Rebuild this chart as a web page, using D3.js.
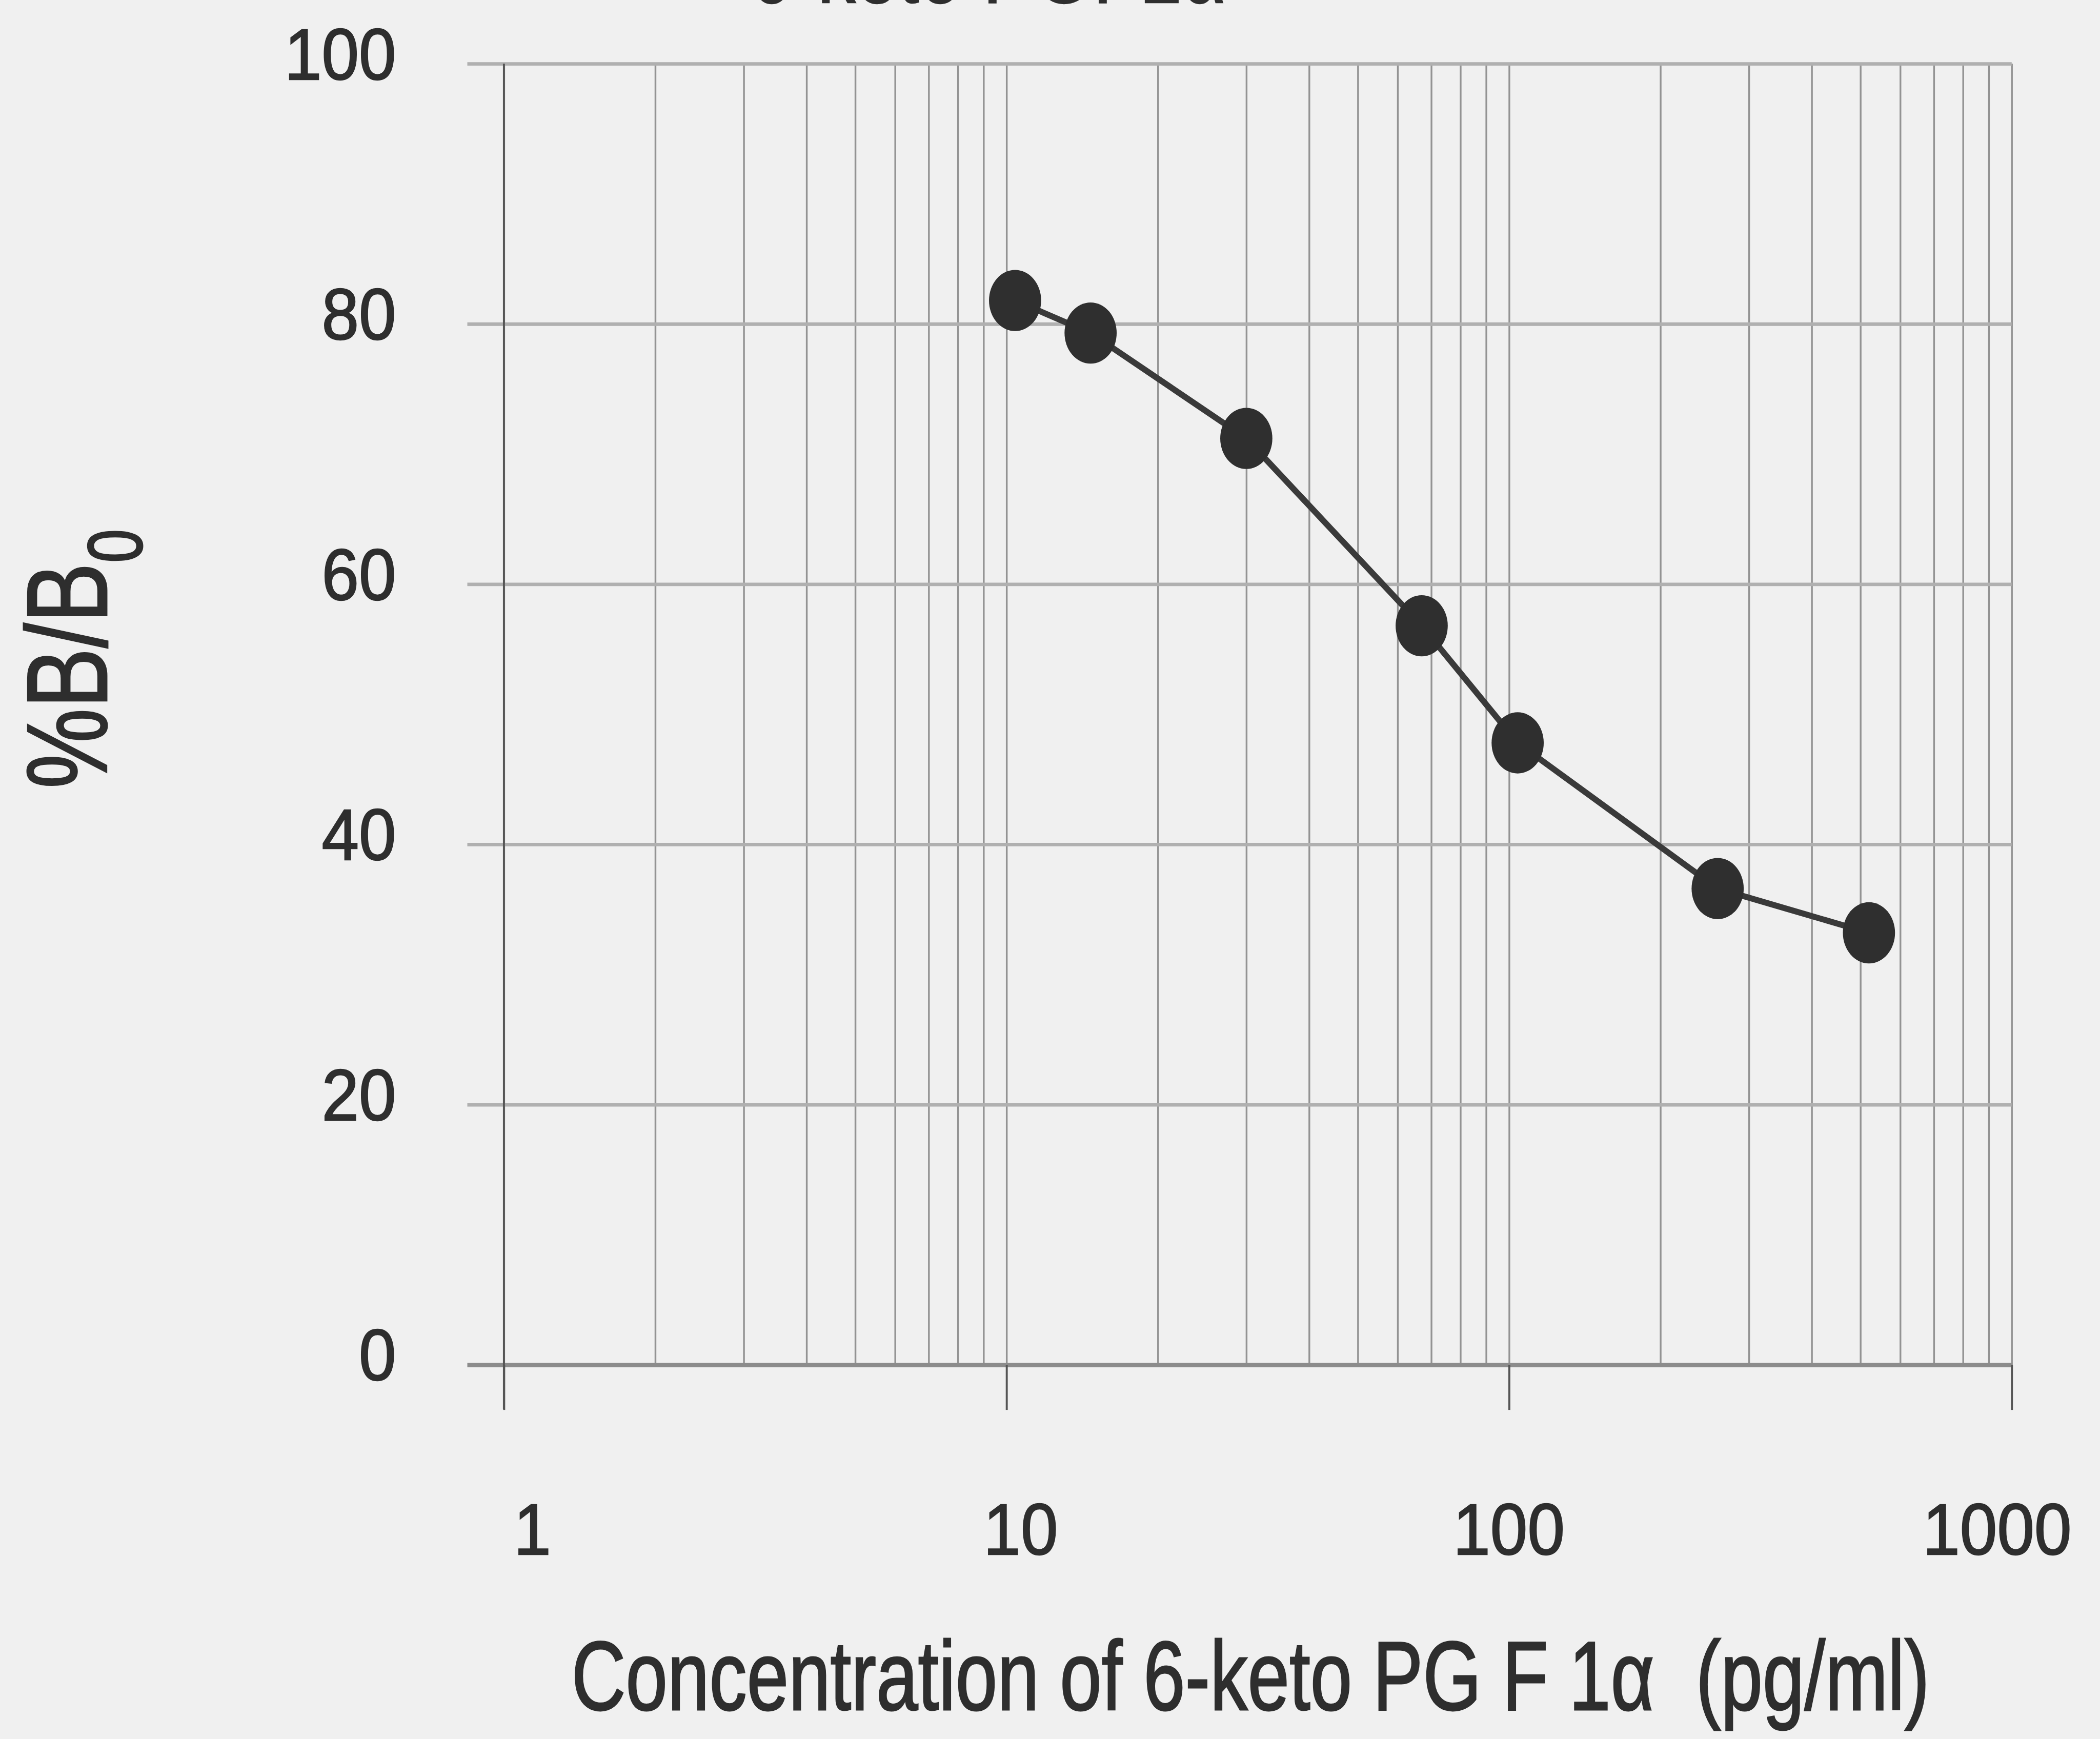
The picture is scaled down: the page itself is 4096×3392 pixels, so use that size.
<!DOCTYPE html>
<html>
<head>
<meta charset="utf-8">
<script src="https://cdn.jsdelivr.net/npm/d3@7"></script>
<style>
  html, body { margin: 0; padding: 0; background: #f0f0f0; overflow: hidden; }
  svg { display: block; }
  text { font-family: "Liberation Sans", Arial, sans-serif; fill: #2e2e2e; stroke: #2e2e2e; stroke-width: 2.5px; white-space: pre; }
</style>
</head>
<body>
<script>
// ---- data ----
const xMajorTicks = [1, 10, 100, 1000];
const xTickLabels = ["1", "10", "100", "1000"];
const yTicks = [0, 20, 40, 60, 80, 100];
const yTickLabels = ["0", "20", "40", "60", "80", "100"];
const concentration = [10.4, 14.7, 30, 67, 104, 260, 520];   // pg/ml
const percentB = [81.8, 79.3, 71.2, 56.8, 47.8, 36.6, 33.2];  // %B/B0
const titleText = "6-keto PGF1α";
const xTitle = "Concentration of 6-keto PG F 1α  (pg/ml)";

// ---- drawing (reference pixel space, scaled to window) ----
const W = 4096, H = 3392, S = 0.978;
const svg = d3.select("body").append("svg").attr("width", W).attr("height", H);
svg.append("rect").attr("width", W).attr("height", H).attr("fill", "#f0f0f0");
const g = svg.append("g").attr("transform", `scale(${S})`);

const x = d3.scaleLog().domain([1, 1000]).range([1005, 4012]);
const y = d3.scaleLinear().domain([0, 100]).range([2722, 127]);
// tick labels sit slightly skewed relative to the ticks in the scan
const xLabelPos = d3.scaleLog().domain([1, 1000]).range([1062, 3983]);

// vertical grid (all log ticks)
const gx = g.append("g").attr("transform", `translate(0,${y(0)})`)
  .call(d3.axisBottom(x).tickValues(x.ticks()).tickSize(-(y(0) - y(100))).tickFormat(""));
gx.select(".domain").remove();
gx.selectAll(".tick line").attr("stroke", "#939393").attr("stroke-width", 3.5);

// horizontal grid
const gy = g.append("g").attr("transform", `translate(${x(1000)},0)`)
  .call(d3.axisLeft(y).tickValues(yTicks).tickSize(x(1000) - 932).tickFormat(""));
gy.select(".domain").remove();
gy.selectAll(".tick line")
  .attr("stroke", d => d === 0 ? "#8c8c8c" : "#b0b0b0")
  .attr("stroke-width", d => d === 0 ? 9 : 7);

// major x ticks extending below the axis
const gt = g.append("g").attr("transform", `translate(0,${y(0)})`)
  .call(d3.axisBottom(x).tickValues(xMajorTicks).tickSize(90).tickFormat(""));
gt.select(".domain").remove();
gt.selectAll(".tick line").attr("stroke", "#555").attr("stroke-width", 4);

// left axis line at x = 1
g.append("line")
  .attr("x1", x(1)).attr("x2", x(1))
  .attr("y1", y(100)).attr("y2", y(0) + 88)
  .attr("stroke", "#555").attr("stroke-width", 4);

// x tick labels
g.append("g").selectAll("text").data(xMajorTicks).join("text")
  .attr("transform", d => `translate(${xLabelPos(d)},3100) scale(0.92,1)`)
  .attr("text-anchor", "middle")
  .attr("font-size", 145)
  .text((d, i) => xTickLabels[i]);

// y tick labels
g.append("g").selectAll("text").data(yTicks).join("text")
  .attr("transform", d => `translate(790,${y(d) + 31}) scale(0.92,1)`)
  .attr("text-anchor", "end")
  .attr("font-size", 145)
  .text((d, i) => yTickLabels[i]);

// y axis title %B/B0
const yt = g.append("text")
  .attr("transform", "translate(213,1314) rotate(-90) scale(0.79,1)")
  .attr("text-anchor", "middle")
  .attr("font-size", 228)
  .style("stroke-width", "3px");
yt.append("tspan").text("%B/B");
yt.append("tspan").attr("font-size", 153).attr("dy", 70).text("0");

// x axis title
g.append("text")
  .attr("transform", "translate(2494,3410) scale(0.768,1)")
  .attr("text-anchor", "middle")
  .attr("font-size", 195)
  .style("stroke-width", "3px")
  .text(xTitle);

// title (cut off at the top edge in the reference)
g.append("text")
  .attr("transform", "translate(1970,5) scale(0.78,1)")
  .attr("text-anchor", "middle")
  .attr("font-size", 195)
  .text(titleText);

// data line and points
const pts = concentration.map((c, i) => [c, percentB[i]]);
g.append("path")
  .datum(pts)
  .attr("fill", "none")
  .attr("stroke", "#3a3a3a")
  .attr("stroke-width", 12)
  .attr("stroke-linejoin", "round")
  .attr("d", d3.line().x(d => x(d[0])).y(d => y(d[1])));

g.append("g").selectAll("ellipse").data(pts).join("ellipse")
  .attr("cx", d => x(d[0])).attr("cy", d => y(d[1]))
  .attr("rx", 52).attr("ry", 61)
  .attr("fill", "#2f2f2f");
</script>
</body>
</html>
